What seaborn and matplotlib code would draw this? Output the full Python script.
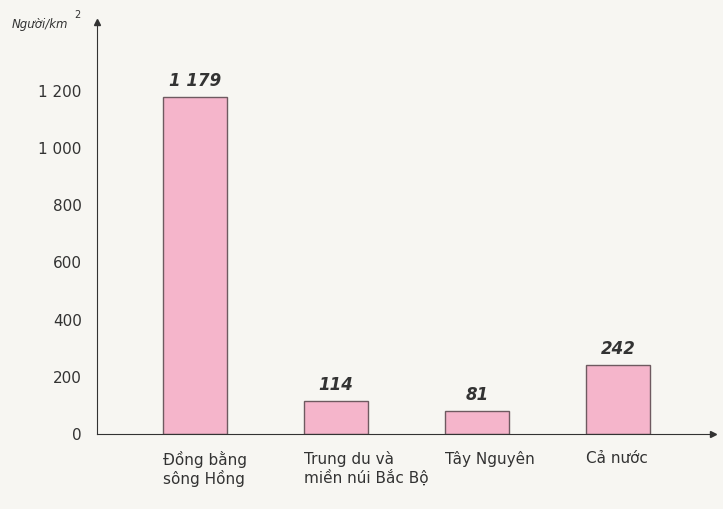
import matplotlib
matplotlib.use("Agg")
import matplotlib.pyplot as plt
import seaborn as sns
import pandas as pd

categories = ["Đồng bằng\nsông Hồng", "Trung du và\nmiền núi Bắc Bộ", "Tây Nguyên", "Cả nước"]
values = [1179, 114, 81, 242]
value_labels = ["1 179", "114", "81", "242"]
yticks = [0, 200, 400, 600, 800, 1000, 1200]
ytick_labels = ["0", "200", "400", "600", "800", "1 000", "1 200"]

sns.set_style("white")
plt.rcParams['font.family'] = ['DejaVu Sans']
bg = "#f7f6f2"
fig = plt.figure(figsize=(7.23, 5.09), dpi=100, facecolor=bg)
ax = fig.add_axes([97/723, 1-434/509, (713-97)/723, (434-22)/509])
ax.set_facecolor(bg)
df = pd.DataFrame({"cat": categories, "val": values})
sns.barplot(data=df, x="cat", y="val", ax=ax, color="#f5b5cb", width=0.45,
            edgecolor="#6e5a60", linewidth=1.0, saturation=1)
ax.set_xlim(-0.695, 3.674)
ax.set_ylim(0, 1441)
for s in ["top", "right"]:
    ax.spines[s].set_visible(False)
for s in ["left", "bottom"]:
    ax.spines[s].set_color("#333333")
ax.set_yticks(yticks)
ax.set_yticklabels(ytick_labels, fontsize=11, color="#333333")
ax.tick_params(axis="y", length=5, direction="out", color="#333333", pad=6)
ax.tick_params(axis="x", length=0, pad=12)
ax.set_xticks(range(len(categories)))
ax.set_xticklabels(categories, fontsize=11, color="#333333", ha="left")
for lbl in ax.get_xticklabels():
    lbl.set_x(lbl.get_position()[0])
import matplotlib.transforms as mt
offset = mt.ScaledTranslation(-32/100, 0, fig.dpi_scale_trans)
for lbl in ax.get_xticklabels():
    lbl.set_transform(lbl.get_transform() + offset)
ax.set_xlabel(""); ax.set_ylabel("")
for i, (v, t) in enumerate(zip(values, value_labels)):
    ax.text(i, v + 25, t, ha="center", va="bottom", fontsize=12,
            fontweight="bold", fontstyle="italic", color="#333333")
# arrows
ax.plot(1, 0, ">", transform=ax.transAxes, clip_on=False, color="#333333", ms=5)
ax.plot(0, 1, "^", transform=ax.transAxes, clip_on=False, color="#333333", ms=5)
fig.text(12/723, 1-28/509, "Người/km", fontsize=8.5, fontstyle="italic", color="#333333")
fig.text(74/723, 1-18/509, "2", fontsize=7, color="#333333")
fig.savefig("out.png", dpi=100, facecolor=bg)
